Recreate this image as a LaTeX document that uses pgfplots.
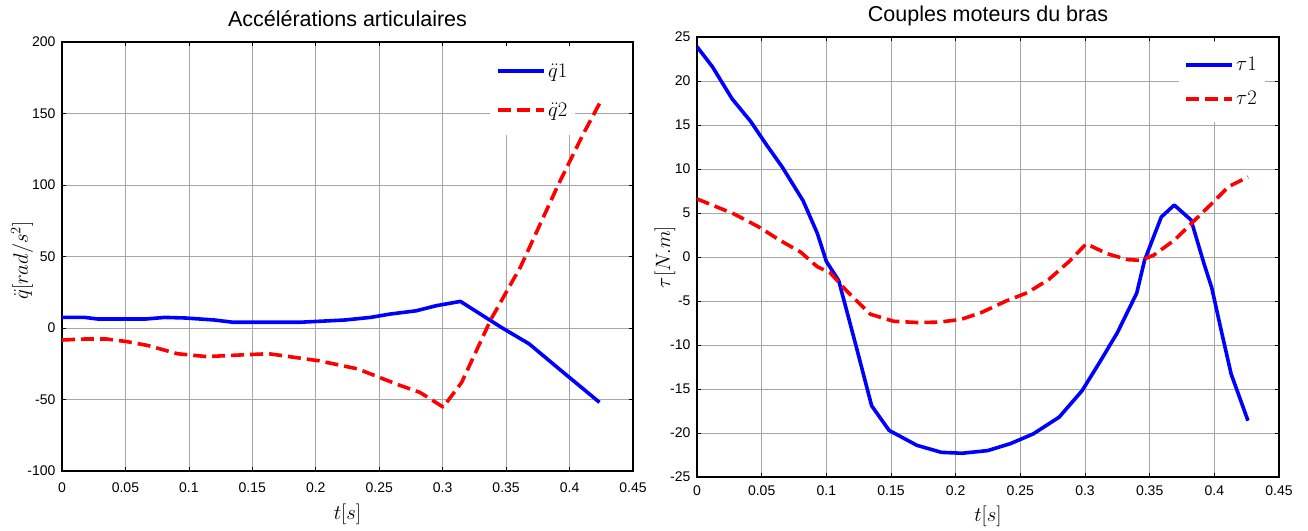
\documentclass[border=0pt]{standalone}
\usepackage[no-math]{fontspec}
\setmainfont{Liberation Sans}
\usepackage{pgfplots}
\pgfplotsset{compat=1.18}
\definecolor{mblue}{RGB}{0,0,255}
\definecolor{mred}{RGB}{255,0,0}
\newcommand{\lblfont}{\fontsize{20}{22}\selectfont}
\newcommand{\ylblfont}{\fontsize{22.5}{24}\selectfont}
\begin{document}
\begin{tikzpicture}[x=1pt,y=1pt]
\useasboundingbox (0,0) rectangle (1308,530);
\pgfplotsset{
 myax/.style={
  scale only axis,
  anchor=south west,
  xmin=0,xmax=0.45,
  xtick={0,0.05,0.1,0.15,0.2,0.25,0.3,0.35,0.4,0.45},
  xticklabels={0,0.05,0.1,0.15,0.2,0.25,0.3,0.35,0.4,0.45},
  grid=major,
  major grid style={black!35, line width=0.7pt},
  axis line style={black, line width=1.1pt},
  tick style={black, line width=0.7pt},
  major tick length=4pt,
  tick align=inside,
  xtick pos=both, ytick pos=both,
  /pgf/number format/assume math mode=true,
  ticklabel style={font=\fontsize{14}{16}\selectfont},
  yticklabel style={anchor=east, xshift=-3pt},
  legend image code/.code={\draw[##1] (0pt,0pt) -- (46pt,0pt);},
  legend cell align=left,
  every axis plot/.append style={line width=3.6pt},
 },
 q1/.style={mblue, solid, line join=round},
 q2/.style={mred, dash pattern=on 13pt off 6pt, line join=round},
}
% ---------------- left axis ----------------
\begin{axis}[myax,
  at={(62pt,59pt)}, width=571pt, height=429pt,
  ymin=-100, ymax=200,
  ytick={-100,-50,0,50,100,150,200},
  yticklabels={-100,-50,0,50,100,150,200},
  xticklabel style={anchor=center, yshift=-17pt},
  title={Accélérations articulaires},
  every axis title/.style={at={(axis description cs:0.5,1)}, anchor=center, yshift=23pt, font=\fontsize{21.5}{24}\selectfont},
  xlabel={\lblfont$t[s]$},
  ylabel={\ylblfont$\ddot{q}[rad/s^{2}]$},
  every axis x label/.style={at={(axis description cs:0.5,0)}, yshift=-43pt, anchor=center, font=\lblfont},
  every axis y label/.style={at={(axis description cs:0,0.5)}, xshift=-40pt, yshift=-4pt, rotate=90, anchor=center, font=\ylblfont},
  legend style={draw=none, fill=white, at={(0.75,0.99)}, anchor=north west,
    font=\lblfont, row sep=20pt, inner xsep=6pt, inner ysep=15pt},
]
\addplot[q1] coordinates {
(0,7.4) (0.018,7.4) (0.028,6.3) (0.066,6.3) (0.081,7.4) (0.097,7.0) (0.12,5.6)
(0.135,4.0) (0.187,4.0) (0.203,4.7) (0.223,5.6) (0.243,7.4) (0.259,9.8)
(0.279,12) (0.295,15.6) (0.314,18.6) (0.347,0) (0.368,-11) (0.395,-31) (0.4236,-52)
};
\addlegendentry{$\ddot{q}1$}
\addplot[q2] coordinates {
(0,-8.4) (0.018,-7.7) (0.035,-7.7) (0.051,-9.5) (0.068,-12.3) (0.091,-18)
(0.114,-20) (0.137,-19) (0.163,-18) (0.183,-20.5) (0.203,-23) (0.233,-28.6)
(0.266,-40) (0.282,-45) (0.3004,-55.3) (0.315,-38) (0.338,6) (0.3615,43)
(0.391,100) (0.411,136) (0.425,159.3)
};
\addlegendentry{$\ddot{q}2$}
\end{axis}
% ---------------- right axis ----------------
\begin{axis}[myax,
  at={(697pt,53pt)}, width=582pt, height=440pt,
  ymin=-25, ymax=25,
  ytick={-25,-20,-15,-10,-5,0,5,10,15,20,25},
  yticklabels={-25,-20,-15,-10,-5,0,5,10,15,20,25},
  xticklabel style={anchor=center, yshift=-14pt},
  title={Couples moteurs du bras},
  every axis title/.style={at={(axis description cs:0.5,1)}, anchor=center, yshift=21pt, font=\fontsize{21.5}{24}\selectfont},
  xlabel={\lblfont$t[s]$},
  ylabel={\lblfont$\tau[N.m]$},
  every axis x label/.style={at={(axis description cs:0.5,0)}, yshift=-39pt, anchor=center, font=\lblfont},
  every axis y label/.style={at={(axis description cs:0,0.5)}, xshift=-32pt, rotate=90, anchor=center, font=\lblfont},
  legend style={draw=none, fill=white, at={(0.827,0.99)}, anchor=north west,
    font=\lblfont, row sep=15pt, inner xsep=6pt, inner ysep=14pt},
]
\addplot[q1] coordinates {
(0,23.9) (0.012,21.6) (0.027,18.0) (0.0415,15.4) (0.053,12.9) (0.066,10.2)
(0.082,6.4) (0.093,2.7) (0.1,-0.5) (0.1096,-2.7) (0.1226,-9.9) (0.135,-16.9)
(0.1485,-19.7) (0.17,-21.4) (0.189,-22.2) (0.205,-22.3) (0.2247,-22.0)
(0.2425,-21.2) (0.26,-20.1) (0.28,-18.2) (0.2977,-15.2) (0.312,-11.8)
(0.325,-8.6) (0.34,-4.1) (0.346,-0.4) (0.3495,0.95) (0.359,4.55) (0.369,5.9)
(0.382,4.2) (0.392,-0.76) (0.398,-3.5) (0.406,-8.8) (0.413,-13.3) (0.426,-18.6)
};
\addlegendentry{$\tau1$}
\addplot[q2] coordinates {
(0,6.6) (0.0285,4.9) (0.048,3.4) (0.064,1.9) (0.080,0.57) (0.093,-1.1)
(0.103,-1.8) (0.116,-3.9) (0.134,-6.5) (0.152,-7.3) (0.171,-7.45) (0.187,-7.4)
(0.204,-7.1) (0.22,-6.3) (0.239,-5.0) (0.2555,-4.05) (0.272,-2.55) (0.288,-0.47)
(0.301,1.5) (0.317,0.38) (0.333,-0.3) (0.343,-0.38) (0.353,0.2) (0.369,1.9)
(0.385,4.2) (0.398,6.07) (0.411,8.0) (0.426,9.1)
};
\addlegendentry{$\tau2$}
\end{axis}
\end{tikzpicture}
\end{document}
